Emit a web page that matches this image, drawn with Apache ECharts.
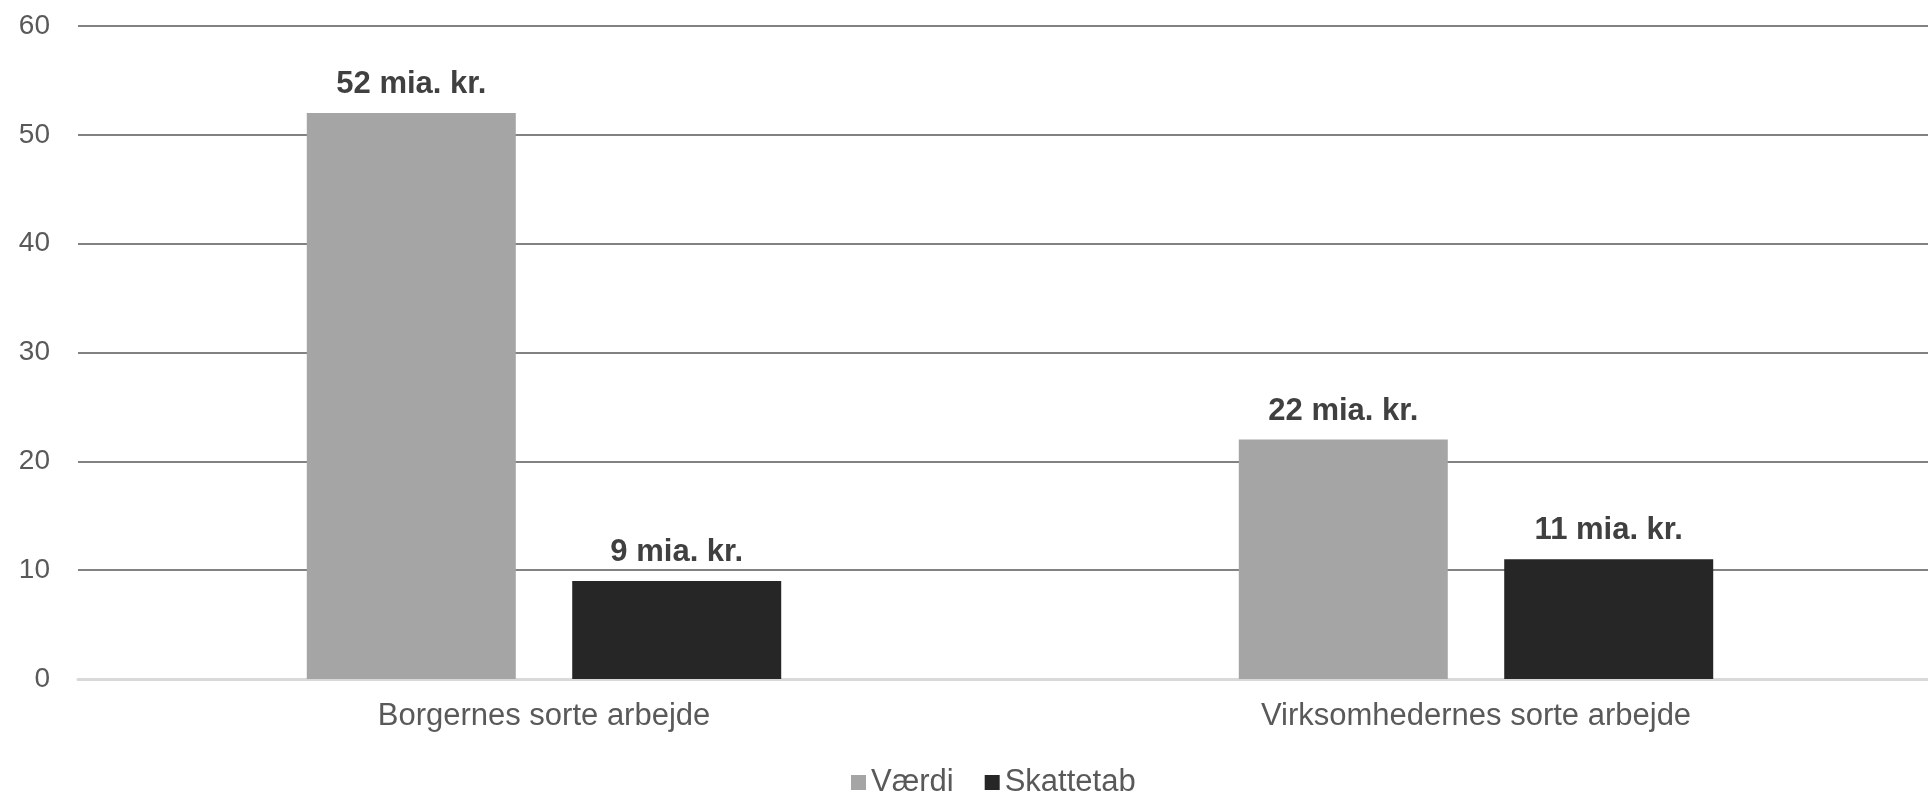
<!DOCTYPE html>
<html>
<head>
<meta charset="utf-8">
<script src="https://cdn.jsdelivr.net/npm/echarts@6/dist/echarts.min.js"></script>
<style>
  html, body { margin: 0; padding: 0; background: #ffffff; }
  #chart { width: 1928px; height: 793px; }
</style>
</head>
<body>
<div id="chart"></div>
<script>
// Sort arbejde - værdi og skattetab (mia. kr.)
const categories = ['Borgernes sorte arbejde', 'Virksomhedernes sorte arbejde'];
const vaerdi = [52, 22];
const skattetab = [9, 11];
const yTicks = { min: 0, max: 60, interval: 10 };

const FONT = '"Liberation Sans", Arial, sans-serif';

const chart = echarts.init(document.getElementById('chart'));

const valueLabel = {
    show: true,
    position: 'top',
    distance: 13,
    formatter: p => p.value + ' mia. kr.',
    color: '#404040',
    fontFamily: FONT,
    fontWeight: 'bold',
    fontSize: 31
};

chart.setOption({
    animation: false,
    backgroundColor: '#ffffff',
    // plot area runs a little past the right edge of the picture
    grid: { left: 78, width: 1864, top: 26, bottom: 114, outerBoundsMode: 'none' },
    legend: {
        top: 767,
        left: 851,
        padding: 0,
        icon: 'rect',
        itemWidth: 15,
        itemHeight: 15,
        itemGap: 31,
        textStyle: { color: '#595959', fontFamily: FONT, fontSize: 31 },
        data: ['Værdi', 'Skattetab']
    },
    xAxis: {
        type: 'category',
        data: categories,
        axisTick: { show: false },
        axisLine: { lineStyle: { color: '#d9d9d9', width: 3 } },
        axisLabel: { color: '#595959', fontFamily: FONT, fontSize: 31, margin: 22 }
    },
    yAxis: {
        type: 'value',
        min: yTicks.min,
        max: yTicks.max,
        interval: yTicks.interval,
        axisLine: { show: false },
        axisTick: { show: false },
        axisLabel: { color: '#595959', fontFamily: FONT, fontSize: 28, margin: 28 },
        splitLine: { lineStyle: { color: '#595959', width: 1.5 } }
    },
    series: [
        {
            name: 'Værdi',
            type: 'bar',
            data: vaerdi,
            barWidth: 209,
            barGap: '27%',
            itemStyle: { color: '#a5a5a5' },
            label: valueLabel
        },
        {
            name: 'Skattetab',
            type: 'bar',
            data: skattetab,
            barWidth: 209,
            itemStyle: { color: '#262626' },
            label: valueLabel
        }
    ]
});

window.addEventListener('resize', () => chart.resize());
</script>
</body>
</html>
